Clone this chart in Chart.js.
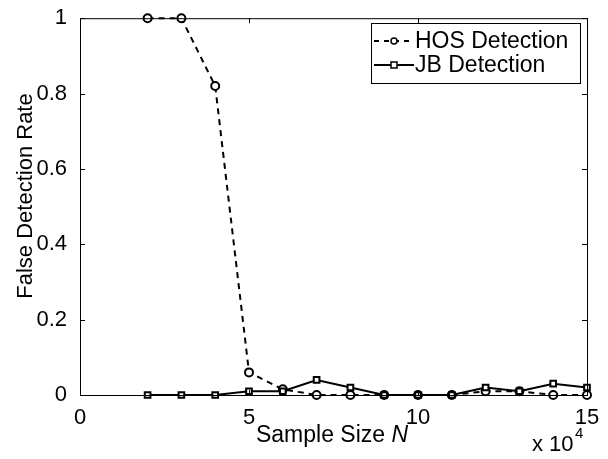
<!DOCTYPE html>
<html>
<head>
<meta charset="utf-8">
<script src="https://cdn.jsdelivr.net/npm/chart.js@4/dist/chart.umd.min.js"></script>
<style>
  html, body { margin: 0; padding: 0; background: #fff; }
  #wrap { width: 608px; height: 459px; position: relative; }
</style>
</head>
<body>
<div id="wrap"><canvas id="mycanvas"></canvas></div>
<script>
// sample size N in units of 10^4
var sampleSize = [2, 3, 4, 5, 6, 7, 8, 9, 10, 11, 12, 13, 14, 15];
var hosRate = [1, 1, 0.82, 0.06, 0.015, 0, 0, 0, 0, 0, 0.01, 0.01, 0, 0];
var jbRate = [0, 0, 0, 0.01, 0.01, 0.04, 0.02, 0, 0, 0, 0.02, 0.01, 0.03, 0.02];
var xTicks = [0, 5, 10, 15];
var yTicks = [0, 0.2, 0.4, 0.6, 0.8, 1];

var FONT = '"Liberation Sans", Arial, Helvetica, sans-serif';

function toPoints(xs, ys) {
	var out = [];
	for (var i in xs) {
		out.push({x: xs[i], y: ys[i]});
	}
	return out;
}

// frame, inward ticks, axis titles, exponent and legend in MATLAB style
var matlabAxes = {
	id: 'matlabAxes',
	afterDraw: function(chart) {
		var ctx = chart.ctx;
		var a = chart.chartArea;
		var xs = chart.scales.x, ys = chart.scales.y;
		ctx.save();
		ctx.strokeStyle = '#000';
		ctx.lineWidth = 1;
		ctx.strokeRect(a.left + 0.5, a.top + 0.5, a.right - a.left, a.bottom - a.top);

		var t = 5;
		ctx.beginPath();
		xTicks.forEach(function(v) {
			var px = Math.round(xs.getPixelForValue(v)) + 0.5;
			ctx.moveTo(px, a.bottom); ctx.lineTo(px, a.bottom - t);
			ctx.moveTo(px, a.top); ctx.lineTo(px, a.top + t);
		});
		yTicks.forEach(function(v) {
			var py = Math.round(ys.getPixelForValue(v)) + 0.5;
			ctx.moveTo(a.left, py); ctx.lineTo(a.left + t, py);
			ctx.moveTo(a.right, py); ctx.lineTo(a.right - t, py);
		});
		ctx.stroke();

		ctx.fillStyle = '#000';
		// y title
		ctx.save();
		ctx.translate(26, 196);
		ctx.rotate(-Math.PI / 2);
		ctx.font = '22px ' + FONT;
		ctx.textAlign = 'center';
		ctx.textBaseline = 'middle';
		ctx.fillText('False Detection Rate', 0, 0);
		ctx.restore();

		// x title with italic N
		ctx.font = '23px ' + FONT;
		var p1 = 'Sample Size ';
		var w1 = ctx.measureText(p1).width;
		ctx.font = 'italic 23px ' + FONT;
		var w2 = ctx.measureText('N').width;
		var cx = 332;
		var x0 = cx - (w1 + w2) / 2;
		ctx.textAlign = 'left';
		ctx.textBaseline = 'alphabetic';
		ctx.font = '23px ' + FONT;
		ctx.fillText(p1, x0, 442);
		ctx.font = 'italic 23px ' + FONT;
		ctx.fillText('N', x0 + w1, 442);

		// exponent
		ctx.font = '22px ' + FONT;
		ctx.fillText('x 10', 532, 451);
		ctx.font = '15px ' + FONT;
		ctx.fillText('4', 575, 438);

		// legend
		var lx = 371, ly = 23, lw = 209, lh = 60;
		ctx.fillStyle = '#fff';
		ctx.fillRect(lx, ly, lw, lh);
		ctx.lineWidth = 1;
		ctx.strokeStyle = '#000';
		ctx.strokeRect(lx + 0.5, ly + 0.5, lw, lh);
		var rows = [
			{label: 'HOS Detection', y: 41, dash: [5, 5], marker: 'circle'},
			{label: 'JB Detection', y: 65, dash: [], marker: 'square'}
		];
		rows.forEach(function(r) {
			ctx.lineWidth = 2;
			ctx.setLineDash(r.dash);
			ctx.beginPath();
			ctx.moveTo(374, r.y); ctx.lineTo(414, r.y);
			ctx.stroke();
			ctx.setLineDash([]);
			ctx.lineWidth = 1.5;
			ctx.fillStyle = '#fff';
			ctx.beginPath();
			if (r.marker === 'circle') {
				ctx.arc(394, r.y, 3, 0, Math.PI * 2);
			} else {
				ctx.rect(391, r.y - 3, 6, 6);
			}
			ctx.fill();
			ctx.stroke();
			ctx.fillStyle = '#000';
			ctx.font = '23px ' + FONT;
			ctx.textBaseline = 'middle';
			ctx.fillText(r.label, 415, r.y + 1);
		});
		ctx.restore();
	}
};

var chartdata = {
	datasets: [
		{
			label: 'HOS Detection',
			data: toPoints(sampleSize, hosRate),
			borderColor: '#000',
			backgroundColor: '#fff',
			borderWidth: 2,
			borderDash: [6, 5],
			pointStyle: 'circle',
			pointRadius: 4,
			pointBorderWidth: 2,
			pointBackgroundColor: '#fff',
			pointBorderColor: '#000',
			tension: 0,
			clip: false,
			order: 1
		},
		{
			label: 'JB Detection',
			data: toPoints(sampleSize, jbRate),
			borderColor: '#000',
			backgroundColor: '#fff',
			borderWidth: 2,
			pointStyle: 'rect',
			pointRadius: 4,
			pointBorderWidth: 2,
			pointBackgroundColor: '#fff',
			pointBorderColor: '#000',
			tension: 0,
			clip: false,
			order: 0
		}
	]
};

var ctx = document.getElementById('mycanvas');

var lineGraph = new Chart(ctx, {
	type: 'line',
	data: chartdata,
	options: {
		responsive: true,
		maintainAspectRatio: false,
		animation: false,
		layout: { padding: { left: 0, top: 15, right: 21, bottom: 0 } },
		plugins: {
			legend: { display: false },
			tooltip: { enabled: false }
		},
		scales: {
			x: {
				type: 'linear',
				min: 0,
				max: 15,
				afterBuildTicks: function(s) { s.ticks = xTicks.map(function(v) { return {value: v}; }); },
				afterFit: function(s) { s.height = 64; },
				grid: { display: false },
				border: { display: false },
				ticks: {
					color: '#000',
					font: { family: FONT, size: 22 },
					padding: 2,
					maxRotation: 0
				}
			},
			y: {
				type: 'linear',
				min: 0,
				max: 1,
				afterBuildTicks: function(s) { s.ticks = yTicks.map(function(v) { return {value: v}; }); },
				afterFit: function(s) { s.width = 80; },
				grid: { display: false },
				border: { display: false },
				ticks: {
					color: '#000',
					font: { family: FONT, size: 22 },
					padding: 5,
					callback: function(v) { return (v === 0 || v === 1) ? String(v) : v.toFixed(1); }
				}
			}
		}
	},
	plugins: [matlabAxes]
});
</script>
</body>
</html>
